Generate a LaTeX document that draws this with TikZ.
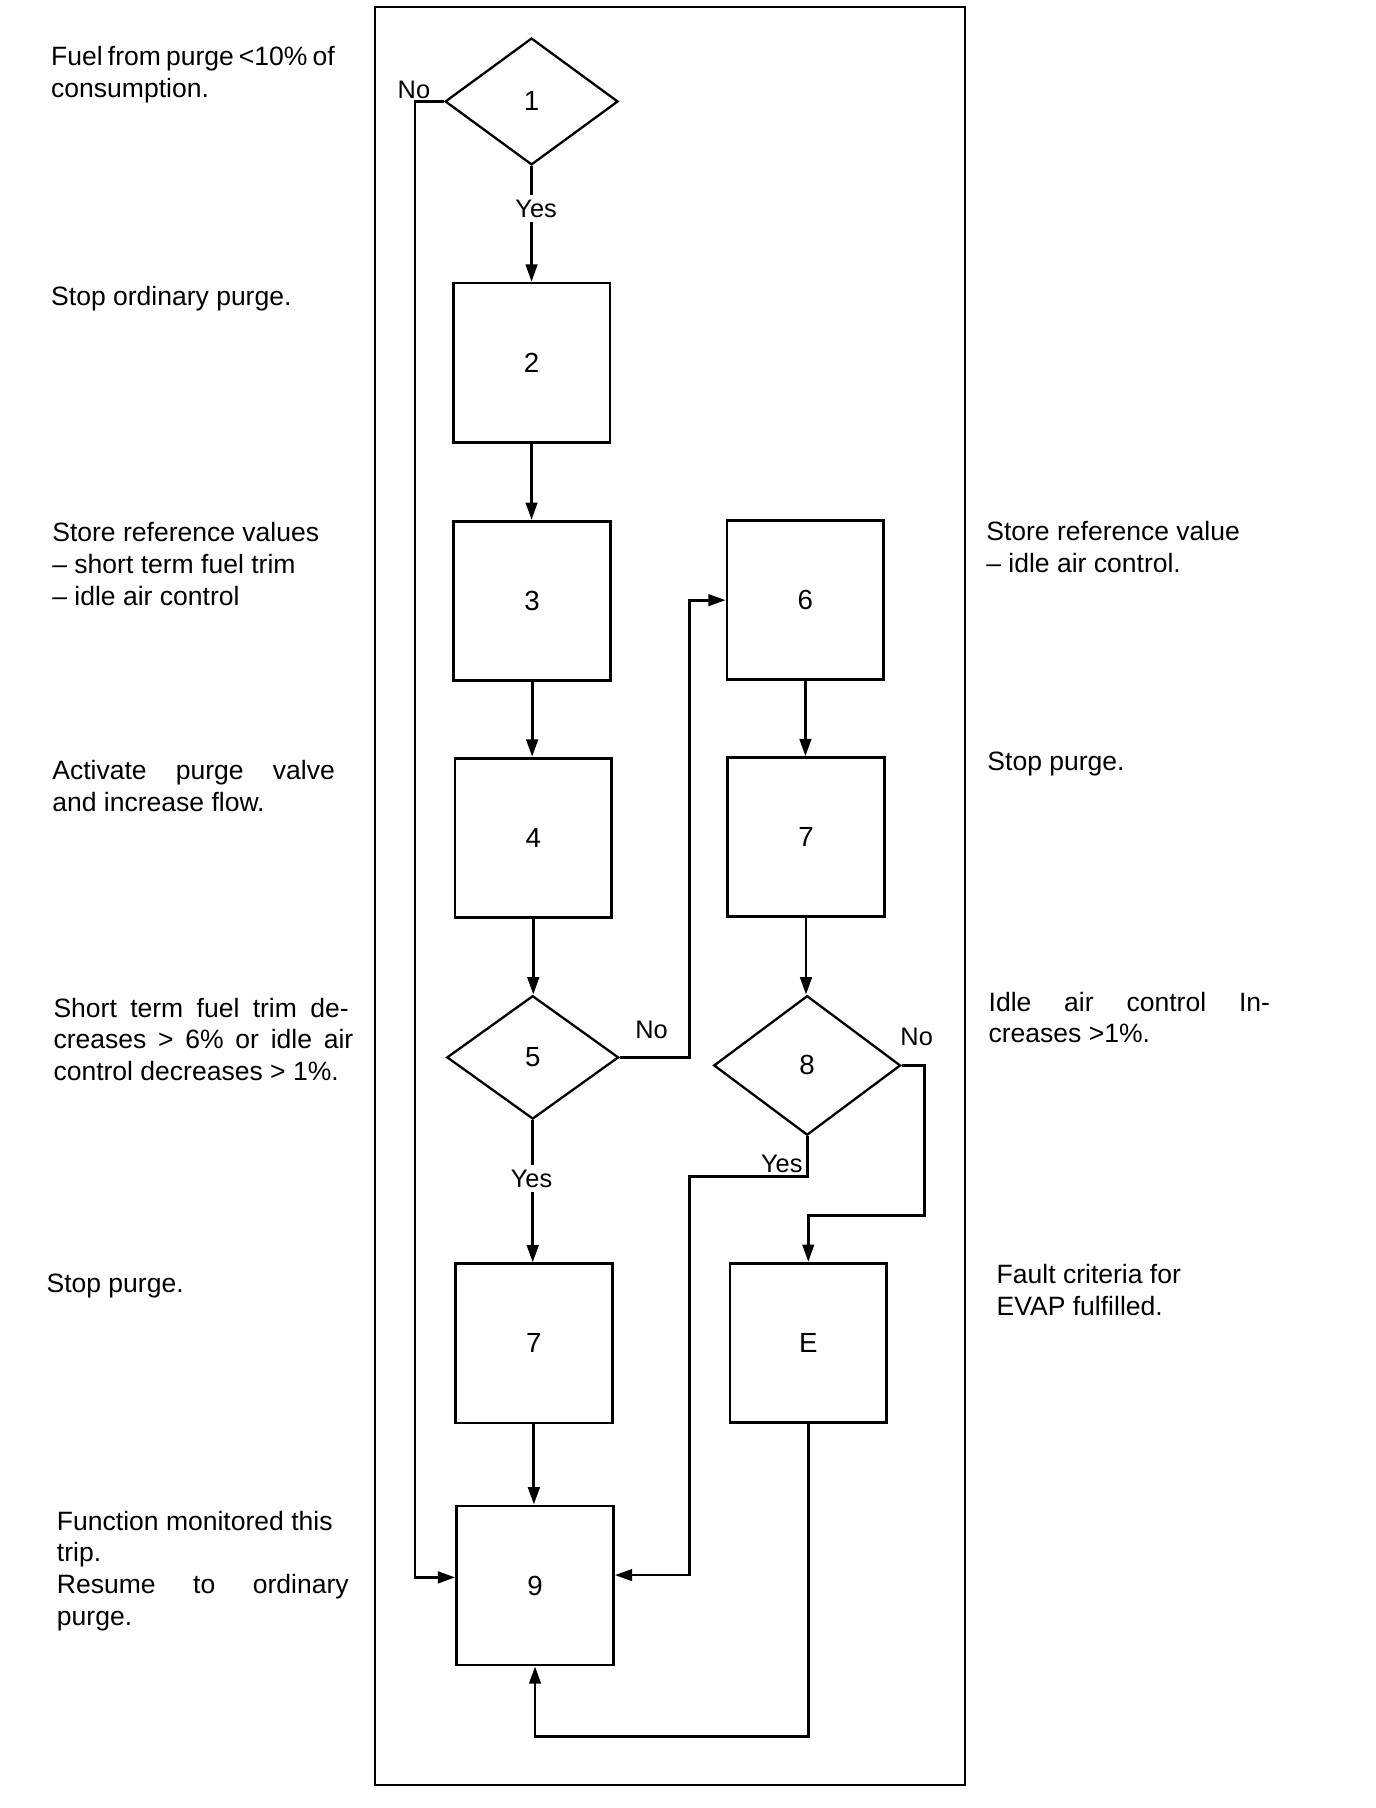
\documentclass[tikz,border=0pt]{standalone}
\usepackage{fontspec}
\setmainfont{Liberation Sans}
\usetikzlibrary{arrows.meta,shapes.geometric}
\newcommand\jline[2]{\makebox[#1][s]{#2}}
\begin{document}
\begin{tikzpicture}[x=0.5pt,y=-0.5pt,
  box/.style={draw, line width=1.2pt, minimum width=68pt, minimum height=69pt, inner sep=0pt, font=\fontsize{12}{14}\selectfont},
  dia/.style={draw, diamond, line width=1pt, inner sep=0pt, font=\fontsize{12}{14}\selectfont},
  conn/.style={line width=1.2pt},
  arr/.style={line width=1.2pt, -{Triangle[length=7.5pt,width=5pt]}},
  txt/.style={anchor=base west, inner sep=0pt, align=left, font=\fontsize{11.5}{13.75}\selectfont},
  lbl/.style={inner sep=1pt, font=\fontsize{11}{13}\selectfont},
  ylbl/.style={inner sep=2pt, fill=white, font=\fontsize{11}{13}\selectfont}]
\useasboundingbox (0,0) rectangle (1193,1568);
% frame
\draw[line width=1pt] (325,6) rectangle (837,1548);

% decisions
\node[dia, minimum width=75pt, minimum height=55pt] (d1) at (461,88) {1};
\node[dia, minimum width=74.5pt, minimum height=53.5pt] (d5) at (462,917) {5};
\node[dia, minimum width=81pt, minimum height=60.5pt] (d8) at (700,924) {8};

% boxes
\node[box] (b2) at (461,314.5) {2};
\node[box] (b3) at (461.5,521) {3};
\node[box] (b4) at (462.5,726.5) {4};
\node[box] (b7a) at (463,1165) {7};
\node[box] (b9) at (464,1375) {9};
\node[box] (b6) at (698.5,520.5) {6};
\node[box] (b7b) at (699,726) {7};
\node[box] (bE) at (701,1164.5) {E};

% helper corners
\coordinate (c1) at (360,88);
\coordinate (c5) at (598,917);
\coordinate (c8n) at (802,1054);
\coordinate (c8y) at (598,1020);
\path (b9.south) ++(0,61) coordinate (cE);

% connectors
\draw[arr] (d1.south) -- (d1.south |- b2.north);
\node[ylbl] (y1) at (465,181) {Yes};
\draw[arr] (b2.south) -- (b2.south |- b3.north);
\draw[arr] (b3.south) -- (b3.south |- b4.north);
\draw[arr] (b4.south) -- (b4.south |- d5.north);
\draw[arr] (d5.south) -- (d5.south |- b7a.north);
\node[ylbl] (y5) at (461,1022) {Yes};
\draw[arr] (b7a.south) -- (b7a.south |- b9.north);
\draw[arr] (d1.west) -- (c1) |- ([yshift=3.5pt]b9.west);
\draw[arr] (d5.east) -- (c5) |- (b6.west);
\draw[arr] (b6.south) -- (b6.south |- b7b.north);
\draw[arr] (b7b.south) -- (b7b.south |- d8.north);
\draw[arr] (d8.east) -| (c8n) -| (bE.north);
\draw[arr] (d8.south) |- (c8y) |- ([yshift=4.5pt]b9.east);
\draw[arr] (bE.south) |- (cE) -- (b9.south);

% branch labels
\node[lbl] (n1) at (359,78) {No};
\node[lbl] (n5) at (565,893) {No};
\node[lbl] (n8) at (795,899) {No};
\node[lbl] (y8) at (678,1009) {Yes};

% left texts (base = baseline of last line)
\node[txt] (t1) at (44,84.5) {\jline{123pt}{Fuel from purge <10\% of}\\consumption.};
\node[txt] (t2) at (44,265) {Stop ordinary purge.};
\node[txt] (t3) at (45,525) {Store reference values\\– short term fuel trim\\– idle air control};
\node[txt] (t4) at (45,703.5) {\jline{122.5pt}{Activate purge valve}\\and increase flow.};
\node[txt] (t5) at (46,937) {\jline{128pt}{Short term fuel trim de-}\\\jline{130pt}{creases > 6\% or idle air}\\control decreases > 1\%.};
\node[txt] (t7) at (40,1121) {Stop purge.};
\node[txt] (t9) at (49,1409.5) {Function monitored this\\trip.\\\jline{126.5pt}{Resume to ordinary}\\purge.};

% right texts
\node[txt] (t6) at (855,496.5) {Store reference value\\– idle air control.};
\node[txt] (t7b) at (856,668) {Stop purge.};
\node[txt] (t8) at (857,904.5) {\jline{122pt}{Idle air control In-}\\creases >1\%.};
\node[txt] (tE) at (864,1140.5) {Fault criteria for\\EVAP fulfilled.};
\end{tikzpicture}
\end{document}
